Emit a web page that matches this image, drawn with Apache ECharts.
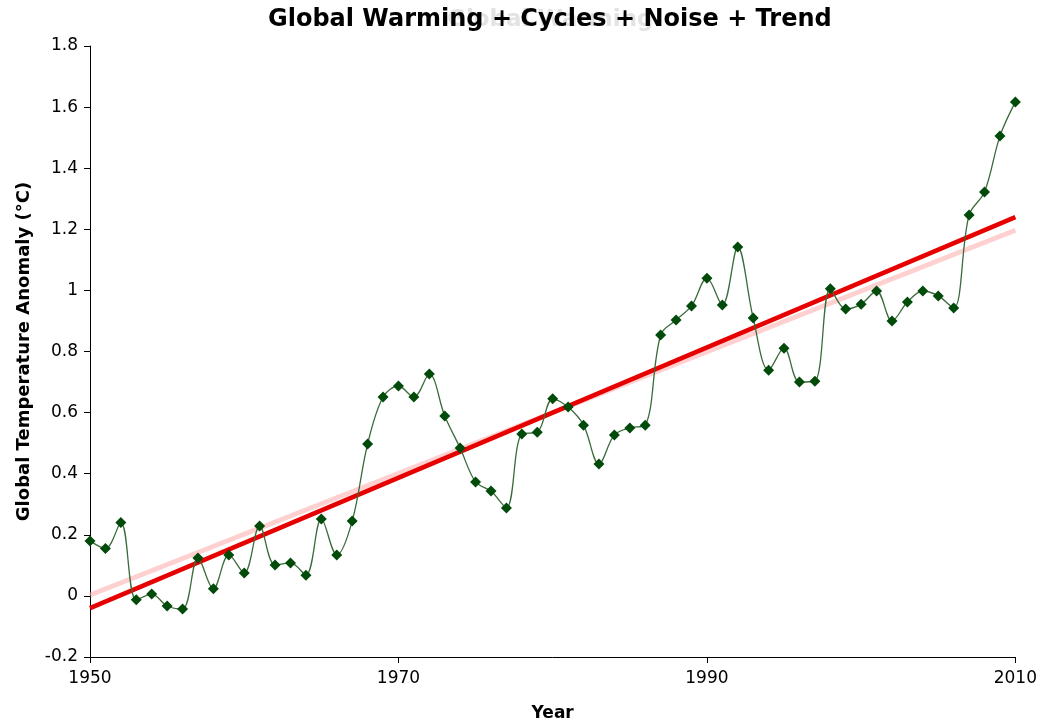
<!DOCTYPE html>
<html><head><meta charset="utf-8">
<script src="https://cdn.jsdelivr.net/npm/echarts@6/dist/echarts.min.js"></script>
<style>html,body{margin:0;padding:0;background:#fff}#c{width:1040px;height:727px}</style>
</head><body><div id="c"></div>
<script>
var years = [];
for (var y = 1950; y <= 2010; y++) years.push(y);
var anomaly = [0.18,0.155,0.24,-0.013,0.006,-0.033,-0.043,0.124,0.023,0.134,
  0.075,0.229,0.101,0.108,0.068,0.252,0.134,0.245,0.497,0.651,
  0.687,0.651,0.726,0.589,0.484,0.373,0.343,0.288,0.530,0.536,
  0.645,0.618,0.559,0.432,0.527,0.550,0.559,0.854,0.903,0.949,
  1.040,0.952,1.142,0.910,0.739,0.811,0.700,0.703,1.005,0.939,
  0.955,0.998,0.900,0.962,0.998,0.982,0.942,1.247,1.322,1.505,1.617];
var trendYears = [1950, 2010];
var trendRed = [-0.04, 1.24];
var trendPink = [0.003, 1.197];
var xTicks = [1950, 1970, 1990, 2010];
var FONT = "'DejaVu Sans',Verdana,sans-serif";

function pairs(xs, ys){ return xs.map(function(x,i){return [x, ys[i]];}); }

var chart = echarts.init(document.getElementById('c'));
chart.setOption({
  animation: false,
  backgroundColor: '#fff',
  graphic: [{
    type: 'text', left: 447, top: 9, z: 0, silent: true,
    style: {text: 'Global Warming', font: "bold 23px " + FONT, fill: 'rgba(175,175,175,0.35)'}
  },{
    type: 'text', left: 268, top: 8, z: 10, silent: true,
    style: {text: 'Global Warming + Cycles + Noise + Trend', font: "bold 24px " + FONT, fill: '#000'}
  }],
  grid: {left: 90, right: 19, top: 46, bottom: 70, containLabel: false},
  xAxis: {
    type: 'value', min: 1950, max: 2010, interval: 20,
    name: 'Year', nameLocation: 'middle', nameGap: 48,
    nameTextStyle: {fontFamily: FONT, fontSize: 17, fontWeight: 'bold', color: '#000'},
    axisLine: {onZero: false, lineStyle: {color: '#000', width: 1}},
    axisTick: {show: true, length: 6, lineStyle: {color: '#000'}},
    axisLabel: {fontFamily: FONT, fontSize: 17, color: '#000', margin: 13,
      formatter: function(v){ return xTicks.indexOf(v) >= 0 ? String(v) : ''; }},
    splitLine: {show: false}
  },
  yAxis: {
    type: 'value', min: -0.2, max: 1.8, interval: 0.2,
    name: 'Global Temperature Anomaly (°C)', nameLocation: 'middle', nameGap: 57,
    nameTextStyle: {fontFamily: FONT, fontSize: 18, fontWeight: 'bold', color: '#000'},
    axisLine: {show: true, onZero: false, lineStyle: {color: '#000', width: 1}},
    axisTick: {show: true, length: 6, lineStyle: {color: '#000'}},
    axisLabel: {fontFamily: FONT, fontSize: 17, color: '#000', margin: 12,
      formatter: function(v){ return String(Math.round(v*10)/10); }},
    splitLine: {show: false}
  },
  series: [{
    type: 'line', data: pairs(trendYears, trendPink), symbol: 'none',
    lineStyle: {color: 'rgba(255,170,170,0.55)', width: 5}, z: 1
  },{
    type: 'line', data: pairs(trendYears, trendRed), symbol: 'none',
    lineStyle: {color: '#e60000', width: 4.5}, z: 2
  },{
    type: 'line', data: pairs(years, anomaly), smooth: 0.35,
    symbol: 'diamond', symbolSize: 11,
    itemStyle: {color: '#004a0a'},
    lineStyle: {color: '#3a6b3a', width: 1.3}, z: 3
  }]
});
</script></body></html>
